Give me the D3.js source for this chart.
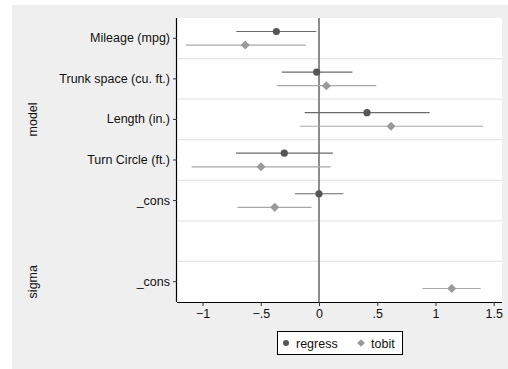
<!DOCTYPE html>
<html>
<head>
<meta charset="utf-8">
<script src="https://cdn.jsdelivr.net/npm/d3@7/dist/d3.min.js"></script>
<style>
  html, body { margin: 0; padding: 0; background: #ffffff; }
  svg { display: block; font-family: "Liberation Sans", Arial, Helvetica, sans-serif; }
</style>
</head>
<body>
<svg id="chart" width="508" height="369"></svg>
<script>
// Coefficient rows, top to bottom (equation, label)
const rowLabels = ["Mileage (mpg)", "Trunk space (cu. ft.)", "Length (in.)", "Turn Circle (ft.)", "_cons", "", "_cons"];
const rowKeys = ["mpg", "trunk", "length", "turn", "cons", "gap", "sigma"];
const groups = [
  { name: "model", first: 0, last: 4 },
  { name: "sigma", first: 6, last: 6 }
];

// regress estimates with 95% CI
const regressRows = ["mpg", "trunk", "length", "turn", "cons"];
const regressB  = [-0.366, -0.020, 0.412, -0.298, 0.000];
const regressLo = [-0.710, -0.320, -0.123, -0.712, -0.206];
const regressHi = [-0.023, 0.286, 0.950, 0.120, 0.209];

// tobit estimates with 95% CI
const tobitRows = ["mpg", "trunk", "length", "turn", "cons", "sigma"];
const tobitB  = [-0.633, 0.063, 0.618, -0.498, -0.380, 1.139];
const tobitLo = [-1.144, -0.363, -0.166, -1.093, -0.700, 0.887];
const tobitHi = [-0.114, 0.492, 1.408, 0.100, -0.063, 1.388];

const xTicks = [-1, -0.5, 0, 0.5, 1, 1.5];

const svg = d3.select("#chart");
const W = 508, H = 369;
const plot = { left: 177, top: 18, right: 502, bottom: 302 };
const FS = 12.5;

// backgrounds
svg.append("rect").attr("x", 12).attr("y", 5).attr("width", W - 12).attr("height", H - 5).attr("fill", "#efefef");
svg.append("rect").attr("x", plot.left).attr("y", plot.top)
  .attr("width", plot.right - plot.left).attr("height", plot.bottom - plot.top).attr("fill", "#ffffff");

const x = d3.scaleLinear().domain([-1.219, 1.571]).range([plot.left, plot.right]);
const y = d3.scaleBand().domain(rowKeys).range([plot.top, plot.bottom]).paddingInner(0).paddingOuter(0);
const yc = k => y(k) + y.bandwidth() / 2;

// row separators
svg.append("g").selectAll("line").data(rowKeys.slice(1)).join("line")
  .attr("x1", plot.left).attr("x2", plot.right)
  .attr("y1", d => y(d)).attr("y2", d => y(d))
  .attr("stroke", "#e6e6e6").attr("stroke-width", 1.2);

// zero reference line
svg.append("line")
  .attr("x1", x(0)).attr("x2", x(0)).attr("y1", plot.top).attr("y2", plot.bottom)
  .attr("stroke", "#666666").attr("stroke-width", 1.5);

const off = 6.8;
const regress = regressRows.map((k, i) => ({ k, b: regressB[i], lo: regressLo[i], hi: regressHi[i] }));
const tobit = tobitRows.map((k, i) => ({ k, b: tobitB[i], lo: tobitLo[i], hi: tobitHi[i] }));

// confidence intervals
svg.append("g").selectAll("line").data(regress).join("line")
  .attr("x1", d => x(d.lo)).attr("x2", d => x(d.hi))
  .attr("y1", d => yc(d.k) - off).attr("y2", d => yc(d.k) - off)
  .attr("stroke", "#6a6a6a").attr("stroke-width", 1.2);
svg.append("g").selectAll("line").data(tobit).join("line")
  .attr("x1", d => x(d.lo)).attr("x2", d => x(d.hi))
  .attr("y1", d => yc(d.k) + off).attr("y2", d => yc(d.k) + off)
  .attr("stroke", "#a8a8a8").attr("stroke-width", 1.2);

// point estimates
svg.append("g").selectAll("circle").data(regress).join("circle")
  .attr("cx", d => x(d.b)).attr("cy", d => yc(d.k) - off).attr("r", 3.6)
  .attr("fill", "#555555");
const diamond = d3.symbol().type(d3.symbolDiamond2).size(52);
svg.append("g").selectAll("path").data(tobit).join("path")
  .attr("d", diamond)
  .attr("transform", d => `translate(${x(d.b)},${yc(d.k) + off})`)
  .attr("fill", "#9a9a9a");

// x axis
const xAxis = d3.axisBottom(x).tickValues(xTicks).tickSize(4).tickPadding(3)
  .tickFormat(d => d === 0 ? "0" : (d3.format("")(Math.abs(d)).replace(/^0\./, ".").replace(/^/, d < 0 ? "\u2212" : "")));
const gx = svg.append("g").attr("transform", `translate(0,${plot.bottom})`).call(xAxis);
gx.select(".domain").attr("stroke", "#000").attr("stroke-width", 1.2).attr("d", `M${plot.left},0.5H${plot.right}`);
gx.selectAll(".tick line").attr("stroke", "#333");
gx.selectAll(".tick text").attr("font-size", FS).attr("fill", "#111").attr("font-family", null);

// y axis
const yAxis = d3.axisLeft(y).tickSize(4).tickPadding(3).tickFormat((d, i) => rowLabels[i]);
const gy = svg.append("g").attr("transform", `translate(${plot.left},0)`).call(yAxis);
gy.select(".domain").attr("stroke", "#000").attr("stroke-width", 1.2).attr("d", `M-0.5,${plot.top}V${plot.bottom}`);
gy.selectAll(".tick").filter(d => d === "gap").remove();
gy.selectAll(".tick line").attr("stroke", "#333");
gy.selectAll(".tick text").attr("font-size", FS).attr("fill", "#111").attr("font-family", null);

// equation group labels
svg.append("g").selectAll("text").data(groups).join("text")
  .attr("transform", d => `translate(37,${(y(rowKeys[d.first]) + y(rowKeys[d.last]) + y.bandwidth()) / 2}) rotate(-90)`)
  .attr("text-anchor", "middle").attr("font-size", FS).attr("fill", "#111")
  .text(d => d.name);

// legend
const lg = svg.append("g").attr("transform", "translate(277,331)");
lg.append("rect").attr("x", 0.5).attr("y", 0.5).attr("width", 125).attr("height", 23)
  .attr("fill", "#ffffff").attr("stroke", "#000").attr("stroke-width", 1);
lg.append("circle").attr("cx", 9).attr("cy", 12).attr("r", 3).attr("fill", "#555555");
lg.append("text").attr("x", 19).attr("y", 16.5).attr("font-size", FS).attr("fill", "#111").text("regress");
lg.append("path").attr("d", d3.symbol().type(d3.symbolDiamond2).size(38))
  .attr("transform", "translate(84,12)").attr("fill", "#9a9a9a");
lg.append("text").attr("x", 94).attr("y", 16.5).attr("font-size", FS).attr("fill", "#111").text("tobit");
</script>
</body>
</html>
